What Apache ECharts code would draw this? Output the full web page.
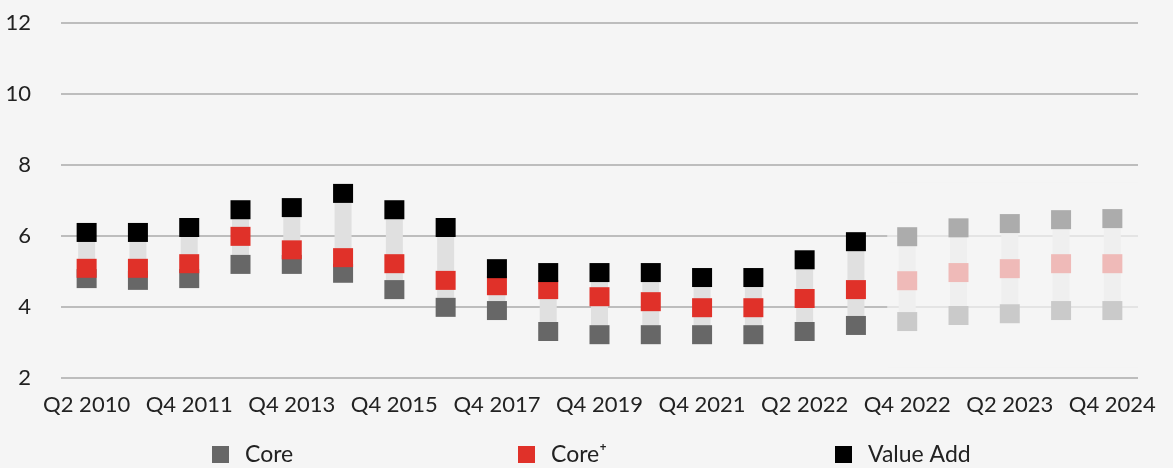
<!DOCTYPE html>
<html>
<head>
<meta charset="utf-8">
<script src="https://cdn.jsdelivr.net/npm/echarts@6/dist/echarts.min.js"></script>
<style>
  html, body { margin: 0; padding: 0; background: #f5f5f5; }
  #chart { width: 1173px; height: 468px; }
</style>
</head>
<body>
<div id="chart"></div>
<script>
// quarters on the x axis (only every other one gets a label)
var quarters = ['Q2 2010', 'Q4 2010', 'Q4 2011', 'Q4 2012', 'Q4 2013', 'Q4 2014', 'Q4 2015',
  'Q4 2016', 'Q4 2017', 'Q4 2018', 'Q4 2019', 'Q4 2020', 'Q4 2021', 'Q1 2022', 'Q2 2022',
  'Q3 2022', 'Q4 2022', 'Q1 2023', 'Q2 2023', 'Q4 2023', 'Q4 2024'];

var core      = [4.80, 4.75, 4.80, 5.20, 5.20, 4.95, 4.49, 3.99, 3.90, 3.31, 3.22,
                 3.22, 3.22, 3.22, 3.31, 3.48, 3.59, 3.76, 3.81, 3.90, 3.90];
var corePlus  = [5.09, 5.09, 5.22, 5.99, 5.61, 5.39, 5.22, 4.75, 4.60, 4.49, 4.29,
                 4.15, 3.98, 3.98, 4.24, 4.49, 4.74, 4.97, 5.08, 5.22, 5.22];
var valueAdd  = [6.10, 6.10, 6.24, 6.74, 6.80, 7.20, 6.74, 6.24, 5.08, 4.97, 4.97,
                 4.97, 4.83, 4.83, 5.33, 5.84, 5.98, 6.23, 6.35, 6.46, 6.49];

var yTicks = { min: 2, max: 12, step: 2 };
var forecastFrom = 15.61;   // forecast part of the chart is faded

var myChart = echarts.init(document.getElementById('chart'));
var font = 'Lato';

// range bar = value add minus core, sitting on a transparent core base
var rangeBase = core.map(function (v) { return v; });
var rangeLen = valueAdd.map(function (v, i) { return +(v - core[i]).toFixed(2); });

function legendAt(name, left) {
  return {
    data: [name],
    left: left,
    top: 443,
    padding: 0,
    icon: 'rect',
    itemWidth: 17,
    itemHeight: 17,
    selectedMode: false,
    itemStyle: { opacity: 1 },
    textStyle: { fontFamily: font, fontSize: 23, color: '#222', padding: [0, 0, 0, 11] }
  };
}

var option = {
  backgroundColor: '#f5f5f5',
  animation: false,
  grid: { left: 61, right: 35, top: 23, bottom: 90 },
  legend: [
    legendAt('Core', 212),
    legendAt('Core⁺', 518),
    legendAt('Value Add', 835)
  ],
  xAxis: [
    {
      type: 'category',
      data: quarters,
      axisLine: { show: false },
      axisTick: { show: false },
      axisLabel: { interval: 1, margin: 16, fontFamily: font, fontSize: 22, color: '#222' }
    },
    {
      // hidden helper axis for the faded forecast area
      type: 'value', min: -0.5, max: 20.5, show: false,
      splitLine: { show: false }
    }
  ],
  yAxis: {
    type: 'value',
    min: yTicks.min,
    max: yTicks.max,
    interval: yTicks.step,
    axisLine: { show: false },
    axisTick: { show: false },
    splitLine: { lineStyle: { color: '#aaaaaa', width: 1.5 } },
    axisLabel: { margin: 30, padding: [0, 0, 8, 0], fontFamily: font, fontSize: 22, color: '#222' }
  },
  series: [
    {
      type: 'bar', stack: 'range', barWidth: 17,
      itemStyle: { color: 'transparent' },
      data: rangeBase, z: 1
    },
    {
      type: 'bar', stack: 'range', barWidth: 17,
      itemStyle: { color: '#e0e0e0' },
      data: rangeLen, z: 1
    },
    {
      name: 'Core', type: 'scatter', symbol: 'rect', symbolSize: [20, 19],
      itemStyle: { color: '#676767', opacity: 1 }, data: core, z: 3
    },
    {
      name: 'Core⁺', type: 'scatter', symbol: 'rect', symbolSize: [20, 19],
      itemStyle: { color: '#e03129', opacity: 1 }, data: corePlus, z: 4
    },
    {
      name: 'Value Add', type: 'scatter', symbol: 'rect', symbolSize: [20, 19],
      itemStyle: { color: '#000000', opacity: 1 }, data: valueAdd, z: 5
    },
    {
      type: 'scatter', xAxisIndex: 1, data: [], silent: true,
      markArea: {
        z: 10,
        silent: true,
        itemStyle: { color: 'rgba(245,245,245,0.7)' },
        data: [[{ xAxis: forecastFrom, yAxis: 2.3 }, { xAxis: 20.5, yAxis: 7.5 }]]
      }
    }
  ]
};

myChart.setOption(option);
</script>
</body>
</html>
